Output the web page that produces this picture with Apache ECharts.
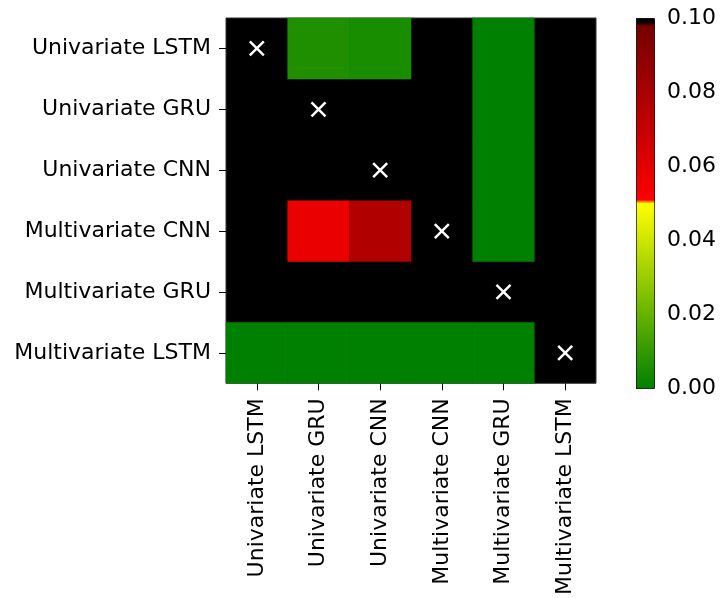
<!DOCTYPE html>
<html>
<head>
<meta charset="utf-8">
<script src="https://cdn.jsdelivr.net/npm/echarts@6/dist/echarts.min.js"></script>
<style>
html,body{margin:0;padding:0;background:#fff;}
#chart{width:721px;height:598px;}
</style>
</head>
<body>
<div id="chart"></div>
<script>
// ---- data ----
var categories = ['Univariate LSTM','Univariate GRU','Univariate CNN','Multivariate CNN','Multivariate GRU','Multivariate LSTM'];
// rows = y categories (top to bottom), columns = x categories; null = shown black (above 0.10 / diagonal)
var rowUnivariateLSTM   = [null, 0.006, 0.005, null, 0.000, null];
var rowUnivariateGRU    = [null, null,  null,  null, 0.000, null];
var rowUnivariateCNN    = [null, null,  null,  null, 0.000, null];
var rowMultivariateCNN  = [null, 0.057, 0.077, null, 0.000, null];
var rowMultivariateGRU  = [null, null,  null,  null, null,  null];
var rowMultivariateLSTM = [0.000, 0.000, 0.000, 0.000, 0.000, null];
var colorbarTicks = [0, 0.02, 0.04, 0.06, 0.08, 0.10];

var rows = [rowUnivariateLSTM,rowUnivariateGRU,rowUnivariateCNN,rowMultivariateCNN,rowMultivariateGRU,rowMultivariateLSTM];
var heatData = [];
rows.forEach(function(r, yi){
  r.forEach(function(v, xi){
    if (v !== null) heatData.push([xi, yi, v]);
  });
});
var diagData = categories.map(function(c, i){ return [i, i]; });

// colormap: green->yellow (0..0.05), red->dark red (0.05..0.1), black tip at top
function hex(n){ n = Math.max(0, Math.min(255, Math.round(n))); return (n < 16 ? '0' : '') + n.toString(16); }
function cmap(v){
  var r, g, b = 0;
  if (v <= 0.05) { var t = v / 0.05; r = 255 * t; g = 128 + 127 * t; }
  else if (v < 0.0985) { var t2 = (v - 0.05) / 0.0485; r = 255 - 140 * t2; g = 0; }
  else { r = 0; g = 0; }
  return '#' + hex(r) + hex(g) + hex(b);
}
var N = 400;
var cols = [];
for (var i = 0; i <= N; i++) {
  var v = 0.1 * i / N;
  if (i === N/2) v = 0.0499;
  if (i === N/2 + 1) v = 0.0501;
  cols.push(cmap(v));
}

var font = 'DejaVu Sans';
var chart = echarts.init(document.getElementById('chart'));
chart.setOption({
  animation: false,
  backgroundColor: '#fff',
  grid: [
    {left: 226, top: 18, width: 370, height: 370, show: true, backgroundColor: '#000', borderColor: '#333', borderWidth: 1},
    {left: 636, top: 18, width: 18, height: 370, show: false}
  ],
  xAxis: [
    {type: 'category', data: categories, gridIndex: 0,
     axisLine: {show: false}, splitLine: {show: false}, splitArea: {show: false},
     axisTick: {show: true, alignWithLabel: true, inside: false, length: 7, lineStyle: {color: '#000', width: 1}},
     axisLabel: {rotate: 90, margin: 15, fontSize: 22, fontFamily: font, color: '#000', interval: 0}},
    {type: 'value', gridIndex: 1, show: false, min: 0, max: 1}
  ],
  yAxis: [
    {type: 'category', data: categories, inverse: true, gridIndex: 0,
     axisLine: {show: false}, splitLine: {show: false}, splitArea: {show: false},
     axisTick: {show: true, alignWithLabel: true, length: 7, lineStyle: {color: '#000', width: 1}},
     axisLabel: {margin: 15, fontSize: 22, fontFamily: font, color: '#000', interval: 0}},
    {type: 'value', gridIndex: 1, position: 'right', min: 0, max: 0.1, interval: 0.02,
     axisLine: {show: false}, splitLine: {show: false},
     axisTick: {show: true, length: 6, lineStyle: {color: '#000', width: 1}},
     axisLabel: {margin: 13, fontSize: 22, fontFamily: font, color: '#000',
       formatter: function(v){ return v.toFixed(2); }}}
  ],
  visualMap: {
    type: 'continuous', min: 0, max: 0.1, seriesIndex: 0,
    calculable: false, hoverLink: false,
    itemWidth: 18, itemHeight: 370, left: 636, top: 18, padding: 0,
    borderColor: '#222', borderWidth: 1,
    inRange: {color: cols}, outOfRange: {color: '#000'},
    text: null, showLabel: false
  },
  series: [
    {type: 'heatmap', data: heatData, xAxisIndex: 0, yAxisIndex: 0,
     itemStyle: {borderWidth: 0}, emphasis: {disabled: true}},
    {type: 'scatter', data: diagData, xAxisIndex: 0, yAxisIndex: 0,
     symbol: 'path://M0,0L10,10M10,0L0,10', symbolSize: 14,
     itemStyle: {color: 'rgba(0,0,0,0)', borderColor: '#ffffff', borderWidth: 2.5, opacity: 1},
     emphasis: {disabled: true}, z: 5}
  ]
});
</script>
</body>
</html>
